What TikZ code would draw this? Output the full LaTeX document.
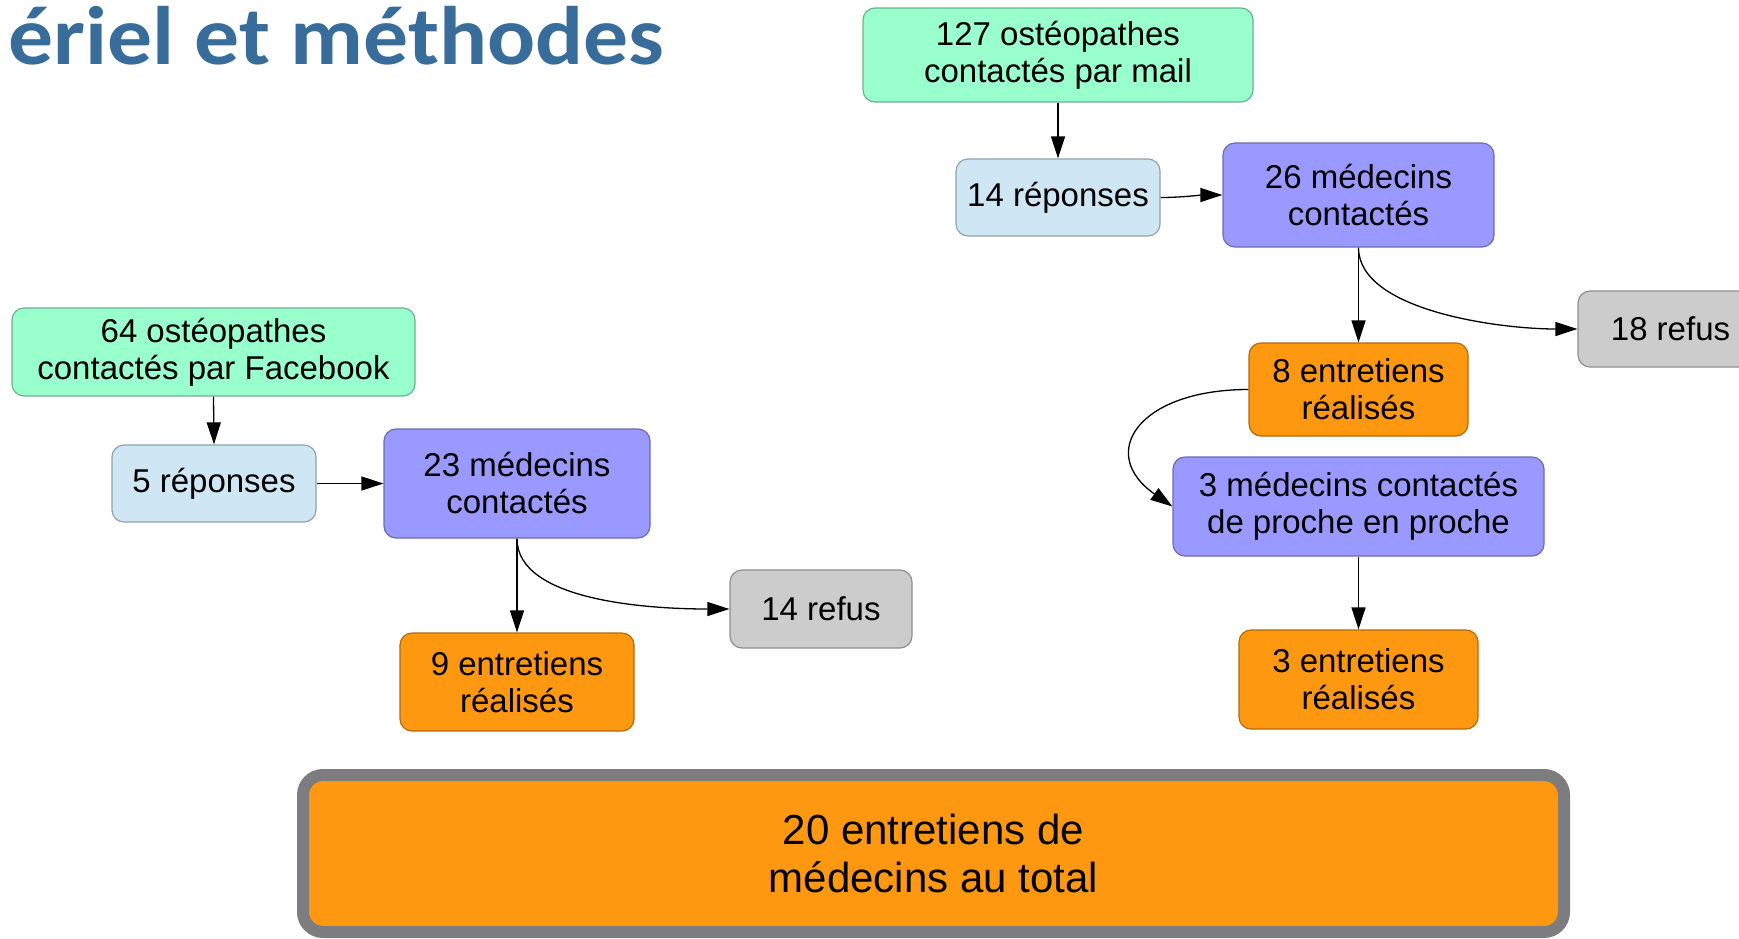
\documentclass[tikz,border=0pt]{standalone}
\usepackage{fontspec}
\setmainfont{Liberation Sans}
\newfontfamily\titlefont{Carlito}[FakeStretch=1.08]
\usetikzlibrary{arrows.meta}
\definecolor{cgreen}{RGB}{153,255,204}
\definecolor{clblue}{RGB}{207,231,245}
\definecolor{cviolet}{RGB}{153,153,255}
\definecolor{corange}{RGB}{255,152,17}
\definecolor{cgray}{RGB}{204,204,204}
\definecolor{cborder}{RGB}{125,125,128}
\definecolor{titleblue}{RGB}{56,108,155}
\begin{document}
\begin{tikzpicture}[x=0.5pt,y=-0.5pt,
  box/.style={rectangle, rounded corners=6pt, draw=#1!70!black, line width=0.6pt,
    fill=#1, inner sep=0pt, align=center, text=black,
    font=\fontsize{16.5}{18.5}\selectfont},
  arr/.style={-{Triangle[length=11pt,width=7pt]}, line width=0.65pt, draw=black}
]
\useasboundingbox (0,0) rectangle (1739,938);

% title
\node[anchor=base east, inner sep=0pt, text=titleblue,
      font=\titlefont\bfseries\fontsize{41.5}{46}\selectfont] (title) at (665,64) {ériel et méthodes};

% right branch
\node[box=cgreen, minimum width=195pt, minimum height=47pt] (b1) at (1058,55) {127 ostéopathes\\contactés par mail};
\node[box=clblue, minimum width=102pt, minimum height=38.5pt] (b2) at (1058,197.5) {14 réponses};
\node[box=cviolet, minimum width=135.5pt, minimum height=52pt] (b3) at (1358.5,195) {26 médecins\\contactés};
\node[box=cgray, minimum width=92.5pt, minimum height=38pt] (b4) at (1670.5,329) {18 refus};
\node[box=corange, minimum width=109.5pt, minimum height=46.5pt] (b5) at (1358.5,389.5) {8 entretiens\\réalisés};
\node[box=cviolet, minimum width=185.5pt, minimum height=49.5pt] (b6) at (1358.5,506.5) {3 médecins contactés\\de proche en proche};
\node[box=corange, minimum width=119.5pt, minimum height=49.5pt] (b7) at (1358.5,679.5) {3 entretiens\\réalisés};

% left branch
\node[box=cgreen, minimum width=201.5pt, minimum height=44pt] (b8) at (213.5,352) {64 ostéopathes\\contactés par Facebook};
\node[box=clblue, minimum width=102pt, minimum height=38.5pt] (b9) at (214,483.5) {5 réponses};
\node[box=cviolet, minimum width=133pt, minimum height=54.5pt] (b10) at (517,483.5) {23 médecins\\contactés};
\node[box=cgray, minimum width=91pt, minimum height=39pt] (b11) at (821,609) {14 refus};
\node[box=corange, minimum width=117pt, minimum height=49pt] (b12) at (517,682) {9 entretiens\\réalisés};

% total
\node[rectangle, rounded corners=10pt, draw=cborder, line width=6pt, fill=corange,
      minimum width=630.5pt, minimum height=78.5pt, inner sep=0pt, align=center,
      font=\fontsize{21}{23.8}\selectfont] (total) at (933.5,853.5) {20 entretiens de\\médecins au total};

% connectors right
\draw[arr] (b1.south) -- (b2.north);
\draw[arr] (b2.east) .. controls +(20,0) and +(-20,0) .. (b3.west);
\draw[arr] (b3.south) -- (b5.north);
\draw[arr] (b3.south) .. controls +(0,63) and +(-78,0) .. (b4.west);
\draw[arr] (b5.west) .. controls +(-110,0) and +(-76,-53) .. (b6.west);
\draw[arr] (b6.south) -- (b7.north);

% connectors left
\draw[arr] (b8.south) -- (b9.north);
\draw[arr] (b9.east) -- (b10.west);
\draw[arr] (b10.south) -- (b12.north);
\draw[arr] (b10.south) .. controls +(0,63) and +(-78,0) .. (b11.west);
\end{tikzpicture}
\end{document}
